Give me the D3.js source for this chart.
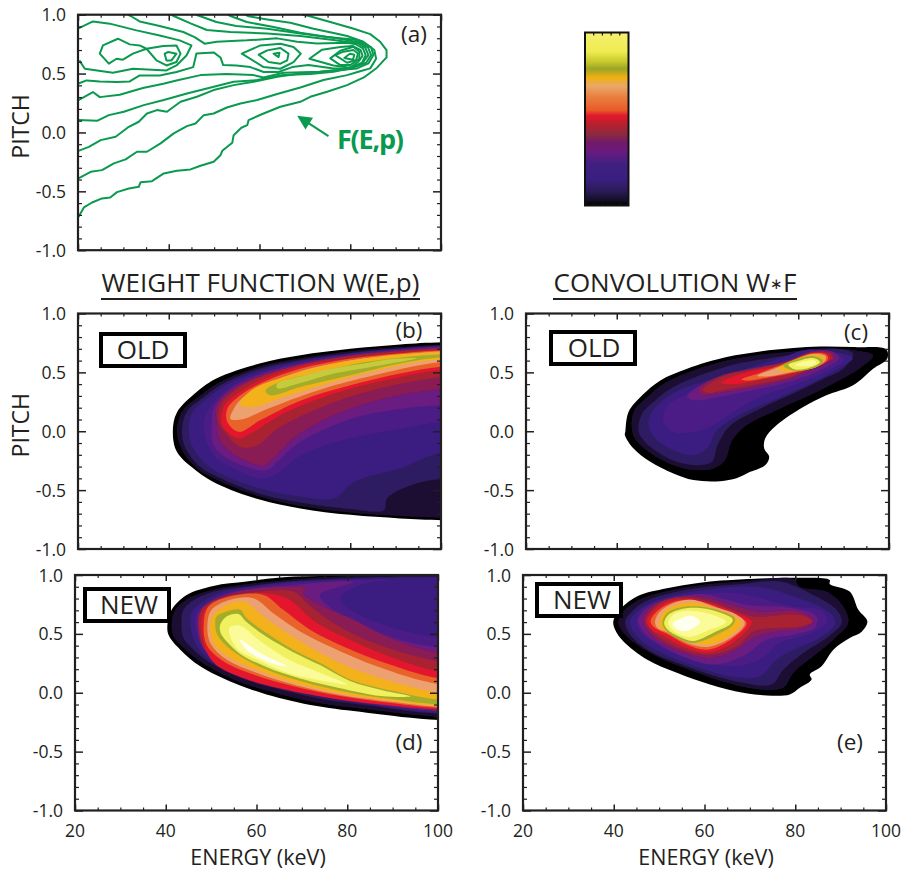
<!DOCTYPE html>
<html>
<head>
<meta charset="utf-8">
<script src="https://cdn.jsdelivr.net/npm/d3@7"></script>
<style>
  html, body { margin: 0; padding: 0; background: #fff; }
  svg { display: block; }
  text { font-family: 'Open Sans', 'Noto Sans', sans-serif; fill: #231f20; }
</style>
</head>
<body>
<svg id="chart" width="904" height="871"></svg>
<script>
const energyMajor = [20, 40, 60, 80, 100]
const energyMinor = [25, 30, 35, 45, 50, 55, 65, 70, 75, 85, 90, 95]
const pitchMajor = [-1, -0.5, 0, 0.5, 1]
const pitchMinor = [-0.9, -0.8, -0.7, -0.6, -0.4, -0.3, -0.2, -0.1, 0.1, 0.2, 0.3, 0.4, 0.6, 0.7, 0.8, 0.9]

// colour of each contour level, lowest first
const levelColors = ['#000000', '#1c1030', '#2e1b62', '#3a1f80', '#4b1f85', '#6a1a80', '#8a1a55', '#a82230',
  '#e3182d', '#e8622a', '#eda070', '#f3b21a', '#a3ad2a', '#f0f060', '#fbfb9a', '#fffff0']
// the ridge of panel (b) never gets past yellow-green
const bRidgeColor = '#c6ca3e'

const barStops = [0, 0.03, 0.08, 0.15, 0.24, 0.31, 0.365, 0.41, 0.47, 0.52, 0.55, 0.63, 0.69, 0.74, 0.79, 0.83, 0.89, 1]
const barColors = ['#000000', '#140f25', '#2a1a55', '#3a1f80', '#3f2080', '#6a1a80', '#721a68', '#8a2a40', '#b8202e',
  '#e3182d', '#e85a28', '#ea8040', '#e8a86a', '#f0b010', '#9aa528', '#c8c82a', '#eeec50', '#f6f070']
const barTicks = [0.2, 0.4, 0.6, 0.8]

// panel (a): F(E,p) contour lines, [energy, pitch]
const fLines = [
  [[20.1,-.717],[21.3,-.637],[23.1,-.595],[25.3,-.56],[27.1,-.552],[28.6,-.507],[31.2,-.476],[33.4,-.462],[33.8,-.422],[36.3,-.414],[38.9,-.348],[41.8,-.326],[44.8,-.314],[47,-.283],[49.9,-.249],[51.4,-.193],[51.8,-.156],[54,-.088],[54.3,-.023],[56,.04],[57.3,.062],[57.6,.105],[60.9,.161],[64.6,.218],[69,.26],[71.2,.303],[74.9,.346],[79.3,.402],[83,.467],[85.9,.55],[88,.637],[88,.70],[86.6,.77],[84.4,.835],[80.8,.881],[75.6,.938],[70.9,.989],[69.4,1]],
  [[20.1,-.39],[22.8,-.334],[25.3,-.32],[27.9,-.263],[30.5,-.229],[33,-.164],[35.2,-.164],[38.2,-.093],[41.1,-.008],[44,.054],[45.9,.076],[47.7,.147],[49.9,.161],[52.8,.212],[55.8,.246],[59.5,.275],[63.9,.326],[69,.382],[74.1,.445],[79.3,.487],[81.8,.516],[84.4,.544],[85.7,.626],[85.3,.70],[82.9,.77],[79.3,.819],[77.1,.839],[71.9,.881],[66.8,.932],[61.7,.96],[57.6,.986],[56.8,1]],
  [[20.1,-.156],[22.4,-.122],[25,-.065],[28.3,-.037],[31.2,.048],[33.4,.091],[35.2,.161],[37.4,.19],[39.6,.176],[42.6,.261],[46.2,.303],[49.9,.36],[54.3,.402],[58.7,.431],[63.9,.473],[69,.501],[73.4,.515],[77.8,.53],[81.5,.544],[84,.586],[85.1,.657],[84.6,.722],[82.6,.77],[80.7,.79],[74.9,.81],[69,.847],[63.1,.895],[57.2,.938],[53.6,.989],[53,1]],
  [[20.1,.105],[24.2,.099],[26.8,.147],[30.1,.176],[34.5,.232],[38.9,.275],[44,.331],[48.4,.374],[54.3,.431],[59.5,.445],[65.3,.487],[71.2,.496],[76.3,.515],[80.7,.55],[83.5,.592],[84.6,.657],[83.9,.722],[82.2,.762],[79.3,.785],[76.3,.805],[69,.841],[61.7,.881],[54.9,.904],[50.5,.938],[46.8,.989],[46,1]],
  [[20.1,.275],[23.3,.343],[24.8,.30],[29.2,.32],[34.3,.377],[38.8,.414],[41.7,.442],[47,.487],[52.8,.496],[58.7,.487],[60.9,.467],[65.3,.507],[73.4,.516],[78.5,.535],[82.6,.586],[84,.657],[83.3,.72],[81.8,.756],[76.3,.785],[69,.819],[61.7,.841],[53.6,.853],[48.4,.87],[44.8,.926],[41.1,.989],[40.5,1]],
  [[20.1,.416],[21.9,.442],[24.8,.433],[28.5,.428],[31.4,.433],[33.6,.484],[38,.484],[41.7,.513],[45.4,.555],[46.1,.671],[49.9,.68],[51.4,.637],[52,.572],[54.9,.569],[58,.555],[60.9,.513],[64.2,.513],[67.2,.555],[70.8,.572],[76.3,.544],[80,.544],[82.6,.592],[83.4,.657],[82.8,.714],[81.3,.748],[79.3,.762],[72.7,.756],[68.3,.771],[63.9,.799],[57.2,.782],[50.6,.771],[47.9,.754],[45.7,.81],[43.2,.853],[38,.904],[33.6,.943],[31.6,.989],[31,1]],
  [[20.1,.884],[23.3,.943],[27,.924],[32.9,.867],[38,.824],[42.4,.782],[45,.739],[43.9,.654],[41.7,.569],[39.5,.527],[32.1,.541],[27.7,.507],[21.5,.541],[20.3,.612]]
]
const fRings = [
  [[24.8,.669],[25.5,.739],[28.8,.796],[31.4,.748],[33.6,.739],[35.1,.711],[38.8,.734],[41.7,.739],[42.6,.669],[41.7,.598],[39.5,.569],[37.3,.612],[35.1,.711],[32.1,.669],[29.9,.618],[28.5,.626],[26.8,.584]],
  [[39.1,.669],[39.9,.683],[41.7,.669],[40.6,.612],[39.5,.612]],
  [[56.1,.669],[60.2,.739],[64.6,.754],[67.5,.725],[69.1,.669],[67.5,.598],[64.6,.541],[60.9,.555]],
  [[59.8,.66],[61.7,.697],[64.6,.717],[66.4,.669],[66.1,.612],[64.6,.584],[62,.598]],
  [[63.1,.669],[64.4,.677],[64.2,.64]],
  [[71,.626],[73.8,.703],[77.8,.725],[80.5,.735],[82.3,.70],[82.7,.65],[81.8,.60],[80,.55],[76.3,.569]],
  [[80.7,.728],[82,.686],[82,.625],[80,.572],[77.8,.572],[75.6,.629],[77.8,.694]],
  [[76.7,.657],[78.5,.686],[80.7,.70],[81.7,.671],[81.3,.615],[79.3,.592]],
  [[78.7,.632],[79.9,.669],[80.9,.66],[80.6,.618]]
]
const fArrow = [[75.2, -0.031], [68.3, 0.142]]

// panel (b): old weight function, one outline per level
const bLevels = [
  [[40.9,0],[41.8,.16],[46.2,.335],[50.6,.45],[60,.575],[69,.645],[80,.70],[91,.737],[100.5,.755],[125,.76],[125,-.76],[100.5,-.755],[91,-.74],[80,-.71],[69,-.655],[60,-.58],[50.6,-.445],[46.2,-.34],[41.8,-.175]],
  [[41.8,0],[42.9,.165],[47,.305],[51.4,.42],[60,.55],[69,.62],[80,.68],[91,.715],[100.5,.735],[125,.74],[125,-.74],[100.5,-.735],[91,-.72],[80,-.69],[69,-.635],[60,-.555],[50.6,-.415],[46.2,-.315],[42.9,-.16]],
  [[42.9,0],[44,.165],[47.7,.29],[52,.405],[60,.53],[69,.605],[80,.665],[91,.705],[100.5,.73],[125,.735],[125,-.36],[100.5,-.40],[93.2,-.46],[88.1,-.57],[87.4,-.67],[80,-.66],[69,-.605],[60,-.53],[50.6,-.385],[46.6,-.29],[43.7,-.145]],
  [[44.4,0],[45.1,.15],[48.4,.275],[52.5,.39],[60,.51],[69,.595],[80,.66],[91,.70],[100.5,.725],[125,.73],[125,-.15],[100.5,-.175],[91,-.315],[80.8,-.43],[76.4,-.57],[69,-.555],[60,-.485],[50.6,-.345],[47.3,-.245],[45.1,-.12]],
  [[47.7,.02],[48.1,.135],[50.6,.275],[53.6,.375],[60,.49],[69,.58],[80,.65],[91,.695],[100.5,.72],[125,.725],[125,.09],[100.5,.08],[91,.02],[80,-.06],[69,-.205],[63.9,-.36],[60,-.40],[54.3,-.315],[49.9,-.205]],
  [[49.5,.08],[49.9,.19],[52.9,.335],[58.7,.46],[69,.575],[80,.645],[91,.69],[100.5,.715],[125,.72],[125,.23],[100.5,.22],[91,.19],[80,.105],[69,-.09],[63.9,-.26],[61.7,-.33],[54.3,-.26],[49.9,-.12]],
  [[50.6,.065],[50.6,.22],[53.6,.345],[59.5,.46],[69,.565],[80,.645],[91,.685],[100.5,.71],[125,.715],[125,.38],[100.5,.36],[87.4,.275],[76.4,.135],[67.5,-.06],[63.1,-.23],[61,-.29],[55.8,-.23],[51.4,-.09]],
  [[51,.08],[51.4,.22],[54.3,.34],[59.5,.45],[69,.565],[80,.64],[91,.68],[100.5,.705],[125,.71],[125,.48],[100.5,.46],[83.7,.335],[72.7,.19],[63.9,.02],[59.5,-.12],[55.8,-.135],[52.9,-.035]],
  [[51.8,.05],[52.1,.205],[55.1,.32],[60.2,.43],[69,.55],[80,.62],[91,.665],[100.5,.69],[125,.695],[125,.54],[100.5,.52],[87.4,.43],[76.4,.32],[65.3,.15],[58,-.02],[55.1,-.06]],
  [[52.9,.08],[52.9,.19],[55.8,.305],[61,.42],[69,.53],[80,.615],[91,.66],[100.5,.685],[125,.69],[125,.58],[100.5,.55],[91,.49],[80,.39],[69,.26],[60.2,.095],[55.4,-.005]],
  [[53.6,.105],[54.3,.19],[56.5,.29],[61.7,.40],[69,.51],[80,.60],[91,.65],[100.5,.68],[125,.685],[125,.61],[100.5,.59],[83.7,.46],[72.7,.345],[61.7,.19],[56.5,.105]],
  [[55.8,.22],[55.8,.25],[58.7,.36],[65.3,.46],[76.4,.575],[87.4,.64],[100.5,.67],[125,.675],[125,.635],[100.5,.615],[87.4,.53],[76.4,.42],[65.3,.29],[58.7,.205]],
  [[61.3,.345],[61.7,.365],[65.3,.43],[72.7,.50],[83.7,.59],[94.7,.64],[100.5,.652],[125,.655],[125,.64],[100.5,.628],[91,.575],[80,.475],[69,.375],[62.4,.305]],
  [[63.9,.365],[63.9,.405],[69,.465],[76.4,.535],[83.7,.58],[89.6,.615],[94.7,.62],[83.7,.54],[76.4,.49],[69,.41]]
]

// panel (c): old convolution
const cLevels = [
  [[41.9,0],[42.6,.164],[45.6,.305],[49.6,.432],[55.5,.531],[64.2,.63],[71.6,.678],[78.9,.706],[84.8,.72],[92.1,.715],[99.4,.695],[99.6,.616],[96.5,.531],[92.1,.39],[86.2,.305],[81.1,.206],[75.2,.05],[72.7,-.062],[72.5,-.147],[73.6,-.218],[72.7,-.288],[69.4,-.345],[66.4,-.40],[62.8,-.424],[56.9,-.415],[52.5,-.359],[47.4,-.26],[43.7,-.147],[41.8,-.034]],
  [[43.4,0],[43.7,.164],[46.7,.29],[50.3,.404],[56.2,.508],[64.2,.60],[71.6,.65],[78.9,.678],[85.5,.705],[92.1,.69],[96.5,.644],[93.5,.531],[88.4,.418],[82.6,.305],[76,.192],[68.6,.05],[65.3,-.09],[63.9,-.246],[61.3,-.316],[56.9,-.33],[52.5,-.288],[48.1,-.203],[44.5,-.09]],
  [[44.8,0],[45.6,.15],[48.9,.277],[52.5,.376],[58.4,.475],[65.7,.565],[73,.616],[80.4,.66],[87,.70],[92.1,.66],[89.9,.531],[84.8,.432],[78.9,.32],[71.6,.192],[65.1,.05],[62.2,-.119],[61,-.26],[57.4,-.288],[52.3,-.246],[47.9,-.147],[45.9,-.076]],
  [[47,.05],[47.8,.164],[51.1,.29],[55.5,.376],[61.3,.445],[68.6,.531],[76,.62],[82.3,.695],[90,.655],[92,.62],[87.7,.503],[82.6,.404],[75.2,.277],[66.9,.136],[61.8,-.006],[60.2,-.133],[56.9,-.203],[52.5,-.161],[48.9,-.076]],
  [[50.3,.08],[50.7,.192],[53.3,.277],[56.9,.32],[62.8,.39],[70.1,.489],[77.4,.60],[83.3,.685],[89,.65],[90,.60],[85.1,.489],[78.9,.39],[71.6,.291],[65.7,.164],[61.3,.05],[56.9,-.006],[52.5,-.006]],
  [[55.5,.30],[56.2,.333],[62.1,.46],[70.1,.531],[77.4,.582],[83.3,.68],[87.5,.675],[89,.62],[85.5,.531],[78.9,.432],[71.6,.362],[64.2,.305],[56.9,.263]],
  [[58,.36],[62.8,.47],[70,.535],[77.4,.592],[83.3,.675],[87.5,.665],[88,.62],[84.5,.55],[78.9,.455],[71.6,.385],[64.2,.335],[58.5,.315]],
  [[59,.35],[63,.46],[70,.525],[77,.585],[83,.67],[87,.66],[87.5,.62],[83.5,.56],[78.9,.47],[71.6,.405],[64.2,.355],[60,.325]],
  [[63,.41],[66,.47],[71,.52],[77,.565],[83,.665],[86.5,.655],[87,.62],[85,.56],[78,.485],[72,.44],[66,.40]],
  [[67.5,.44],[71.5,.495],[76,.56],[83,.66],[86.2,.65],[86.5,.61],[84.5,.555],[78,.49],[73,.455],[69,.43]],
  [[71,.47],[75,.535],[79,.595],[83,.655],[86,.64],[86,.605],[84,.55],[78,.50],[74,.47]],
  [[75.5,.525],[78,.585],[83,.65],[85.8,.625],[85.5,.595],[84,.545],[78,.51]],
  [[76.7,.56],[78.9,.60],[83.3,.64],[85.5,.60],[84,.545],[78.9,.515]],
  [[77.8,.565],[79.6,.593],[83.3,.622],[84.8,.588],[83.3,.55],[79.3,.525]],
  [[79.3,.56],[81,.59],[83.6,.6],[84,.58],[82.5,.555]]
]

// panel (d): new weight function
const dLevels = [
  [[40.4,.59],[41.3,.704],[44.6,.83],[50.5,.907],[57.8,.944],[65.9,.98],[76.9,.995],[90,1.02],[100.5,1.03],[125,1.04],[125,-.235],[100.5,-.232],[84.3,-.169],[73.3,-.113],[62.2,-.014],[54.9,.085],[47.6,.225],[43.2,.366],[40.6,.493]],
  [[41.3,.59],[42.1,.704],[45.4,.81],[50.9,.88],[58.2,.924],[66.7,.958],[76.9,.985],[90,.995],[100.5,1],[125,1],[125,-.21],[100.5,-.205],[84.3,-.141],[73.3,-.085],[62.6,.014],[55.3,.107],[48.3,.248],[44.3,.366],[41.7,.479]],
  [[43.5,.59],[43.9,.704],[46.8,.80],[51.6,.868],[58.6,.907],[67.4,.947],[76.9,.969],[90,.985],[100.5,.99],[125,.99],[125,-.18],[100.5,-.18],[84.3,-.107],[74,-.051],[63.7,.042],[56.4,.127],[49.8,.254],[46.1,.366],[43.9,.465]],
  [[45.4,.59],[45.8,.69],[48.5,.78],[52.5,.855],[59,.90],[67.4,.94],[76.9,.96],[90,.975],[100.5,.98],[125,.98],[125,-.17],[100.5,-.17],[84.3,-.095],[74,-.03],[63.7,.055],[56.4,.15],[50,.27],[46.8,.40]],
  [[46.5,.59],[46.8,.676],[49.4,.775],[53.4,.845],[59.3,.887],[67.4,.93],[76.9,.952],[89.4,.958],[82.8,.915],[78.4,.803],[80.6,.704],[88,.577],[100.5,.465],[125,.44],[125,-.16],[100.5,-.16],[84.3,-.079],[74,-.014],[63.7,.07],[56.4,.169],[50.5,.296],[47.6,.408]],
  [[46.9,.59],[47.3,.68],[49.8,.775],[54.9,.855],[62.2,.895],[69.6,.92],[81.3,.94],[74,.831],[75.1,.761],[81.3,.606],[91.6,.451],[100.5,.385],[125,.36],[125,-.155],[100.5,-.155],[84.3,-.09],[74,-.025],[63.7,.06],[56.4,.16],[50.5,.285],[48,.40]],
  [[47.1,.59],[47.6,.68],[50.2,.775],[54.9,.85],[60,.885],[66,.90],[71,.885],[70.3,.845],[73.3,.761],[80.6,.634],[89.4,.465],[100.5,.335],[125,.29],[125,-.15],[100.5,-.15],[90.2,-.101],[77.7,-.039],[67.4,.042],[58.6,.135],[52,.248],[48.3,.38]],
  [[47.3,.59],[48,.715],[52,.803],[60.8,.859],[68.1,.859],[71.1,.761],[76.9,.592],[85,.437],[100.5,.265],[125,.22],[125,-.145],[100.5,-.145],[90,-.105],[77,-.045],[67,.035],[58,.13],[52,.25],[48.5,.37]],
  [[47.8,.59],[48.5,.70],[52.6,.80],[60.8,.845],[66.7,.803],[73.3,.592],[81.3,.437],[90.2,.296],[100.5,.18],[125,.14],[125,-.14],[100.5,-.14],[90,-.11],[77,-.05],[66,.03],[57,.125],[51,.24],[49,.35]],
  [[48.4,.592],[49.4,.732],[53.4,.811],[61.5,.831],[65.9,.704],[71.8,.535],[79.9,.38],[89.4,.239],[100.5,.12],[125,.08],[125,-.13],[100.5,-.13],[90.2,-.09],[78.4,-.028],[68.1,.056],[59.3,.155],[52.7,.268],[49,.408]],
  [[49.2,.592],[50.1,.704],[54.2,.789],[59.3,.803],[63.7,.676],[69.6,.521],[76.9,.38],[86.5,.225],[100.5,.07],[125,.03],[125,-.122],[100.5,-.122],[90.2,-.079],[79.1,-.023],[68.9,.062],[60,.169],[53.4,.282],[49.8,.423]],
  [[49.8,.592],[50.5,.662],[53.4,.746],[57.1,.775],[61.5,.648],[66.7,.507],[74,.338],[82.8,.183],[100.5,0],[125,-.03],[125,-.112],[100.5,-.112],[90.2,-.07],[79.9,-.014],[69.6,.07],[60.8,.183],[54.2,.296],[50.5,.423]],
  [[50.9,.592],[51.2,.648],[53.4,.69],[56.4,.704],[57.8,.634],[62.2,.507],[68.1,.366],[74,.254],[80.6,.113],[90.2,.014],[100.5,-.06],[125,-.07],[125,-.10],[100.5,-.10],[90.2,-.056],[80.6,0],[69.6,.099],[62.2,.197],[56.4,.31],[52.7,.423],[51.2,.507]],
  [[52,.577],[53.4,.648],[56,.668],[57.8,.6],[62.2,.475],[68.1,.345],[74,.235],[80.6,.10],[88,.02],[94,-.03],[88,-.03],[80.6,.02],[69.6,.12],[62.2,.218],[56.4,.33],[53.4,.437],[52.1,.507]],
  [[54,.55],[56.4,.57],[60.8,.44],[67.4,.275],[74,.17],[80,.07],[73.3,.11],[66.7,.17],[60.8,.27],[55.6,.38]],
  [[56.4,.451],[60.8,.338],[66.7,.225],[63,.254],[57.8,.366]]
]

// panel (e): new convolution
const eLevels = [
  [[39.9,.606],[41,.69],[45.1,.817],[51.7,.887],[59,.935],[68.5,.963],[79.6,.977],[87.6,.958],[87.6,.924],[92,.859],[93.9,.704],[95.9,.606],[94.7,.521],[92,.465],[88.4,.366],[85.8,.225],[83.2,.155],[83.6,.113],[81,.042],[78.8,-.014],[73.7,-.023],[68.5,0],[61.2,.07],[53.9,.169],[47.3,.282],[42.1,.437],[40.3,.535]],
  [[41,.606],[42.1,.69],[45.8,.794],[51.9,.865],[59.4,.916],[68.5,.944],[79.6,.966],[81,.901],[86.9,.859],[90.6,.732],[91.7,.592],[88.4,.451],[84,.31],[79.6,.169],[77.4,.042],[72.2,.028],[64.9,.085],[57.5,.183],[50.2,.296],[43.6,.451],[41.4,.549]],
  [[42.5,.606],[43.6,.676],[46.9,.775],[52.4,.845],[59.7,.896],[68.5,.924],[76.6,.944],[83.2,.845],[89.1,.704],[90.2,.592],[86.9,.465],[81.8,.338],[77.4,.197],[74.8,.07],[68.5,.085],[61.2,.155],[53.9,.254],[48,.352],[43.6,.493]],
  [[43.6,.606],[44.7,.676],[48,.761],[53.1,.825],[59.7,.873],[67.1,.901],[73.7,.887],[79.6,.817],[85.4,.732],[88.4,.648],[88.7,.577],[84.7,.451],[79.6,.366],[75.9,.282],[72.2,.141],[66.3,.135],[59,.211],[53.1,.296],[47.3,.408],[44.3,.521]],
  [[45.1,.606],[46.2,.704],[49.5,.775],[53.9,.811],[59.7,.845],[67.1,.845],[72.2,.803],[79.6,.732],[86.2,.69],[86.9,.592],[82.5,.493],[76.6,.423],[72.2,.282],[66.3,.225],[59,.268],[53.1,.338],[48,.451],[45.8,.521]],
  [[45.4,.62],[47.3,.718],[50.2,.775],[54.6,.817],[59.7,.837],[64.9,.789],[69.3,.746],[79.6,.718],[84.7,.648],[84.3,.549],[79.6,.493],[73.7,.451],[68.5,.31],[62,.239],[56.1,.296],[50.2,.408],[46.5,.521]],
  [[46.5,.62],[48,.718],[50.9,.783],[56.1,.823],[61.2,.803],[67.2,.732],[72.2,.69],[81,.69],[84,.606],[81.8,.549],[75.9,.521],[70.8,.465],[66.3,.352],[61.2,.296],[54.6,.352],[49.5,.451],[47.3,.535]],
  [[47,.62],[48.7,.718],[51.7,.789],[56.1,.811],[61.2,.775],[66.3,.704],[70.7,.648],[81,.662],[83.7,.606],[81,.563],[75.1,.549],[70.7,.521],[67.1,.394],[61.2,.324],[55.3,.366],[50.2,.465],[48,.535]],
  [[47.3,.606],[49.1,.704],[52,.775],[56.1,.797],[61.2,.761],[67.1,.676],[70.4,.606],[67.1,.451],[61.2,.344],[56.1,.38],[50.9,.485],[48.4,.535]],
  [[48.1,.606],[49.5,.69],[52.4,.761],[56.8,.789],[61.2,.752],[66.3,.662],[69.3,.592],[66.3,.465],[60.8,.366],[56.1,.408],[51.7,.501],[49.1,.549]],
  [[49.1,.606],[50.2,.69],[53.1,.761],[57.2,.789],[61.9,.732],[67.1,.662],[68.9,.592],[66.3,.479],[60.8,.389],[56.1,.423],[51.7,.513],[49.6,.549]],
  [[50.1,.606],[51.1,.69],[53.9,.746],[57.2,.766],[61.9,.718],[66.7,.648],[68.2,.592],[65.6,.485],[60.8,.408],[56.1,.437],[52,.521],[50.2,.549]],
  [[50.7,.592],[51.7,.676],[54.6,.724],[59,.732],[62.7,.704],[66.7,.634],[66.3,.577],[62.7,.493],[57.5,.423],[53.9,.465],[51.7,.521]],
  [[51.1,.592],[52.2,.668],[55,.712],[59,.72],[62.7,.69],[66.2,.625],[65.8,.585],[62,.51],[57.5,.44],[54.2,.48],[51.9,.535]],
  [[52,.592],[53.5,.672],[57.5,.695],[61.9,.66],[64.8,.6],[60.5,.525],[56.5,.475],[53.2,.525]],
  [[53,.586],[55.3,.64],[57.5,.65],[59,.6],[56.1,.525],[54,.54]]
]

const INK = '#231f20'
const GREEN = '#0a9a4f'
const svg = d3.select('#chart')
const defs = svg.append('defs')

defs.append('filter').attr('id', 'soft')
  .attr('x', '-5%').attr('y', '-5%').attr('width', '110%').attr('height', '110%')
  .append('feGaussianBlur').attr('stdDeviation', 0.6)

function drawFrame(id, left, top) {
  const width = 363
  const height = 235.5
  const x = d3.scaleLinear().domain([20, 100]).range([left, left + width])
  const y = d3.scaleLinear().domain([-1, 1]).range([top + height, top])

  defs.append('clipPath').attr('id', `clip-${id}`)
    .append('rect').attr('x', left).attr('y', top).attr('width', width).attr('height', height)

  return { x, y, left, top, width, height, plot: svg.append('g').attr('clip-path', `url(#clip-${id})`) }
}

function drawAxes(p, withEnergyLabels) {
  const axes = svg.append('g').attr('class', 'axes')
  const side = (axis, tx, ty, major, minor, size, minorSize) => {
    axes.append('g').attr('transform', `translate(${tx},${ty})`)
      .call(axis().tickValues(major).tickSize(size).tickFormat(''))
      .call(g => g.select('.domain').remove())
      .selectAll('line').attr('stroke', INK).attr('stroke-width', 1.5)
    axes.append('g').attr('transform', `translate(${tx},${ty})`)
      .call(axis().tickValues(minor).tickSize(minorSize).tickFormat(''))
      .call(g => g.select('.domain').remove())
      .selectAll('line').attr('stroke', INK).attr('stroke-width', 1.2)
  }
  side(() => d3.axisBottom(p.x), 0, p.top + p.height, energyMajor, energyMinor, -6, -3)
  side(() => d3.axisTop(p.x), 0, p.top, energyMajor, energyMinor, -6, -3)
  side(() => d3.axisLeft(p.y), p.left, 0, pitchMajor, pitchMinor, -8, -4)
  side(() => d3.axisRight(p.y), p.left + p.width, 0, pitchMajor, pitchMinor, -8, -4)

  axes.append('rect')
    .attr('x', p.left).attr('y', p.top).attr('width', p.width).attr('height', p.height)
    .attr('fill', 'none').attr('stroke', INK).attr('stroke-width', 2.2)

  axes.selectAll('text.ylab')
    .data(pitchMajor)
    .join('text')
    .attr('class', 'ylab')
    .attr('x', p.left - 12)
    .attr('y', d => p.y(d) + 6.5)
    .attr('text-anchor', 'end')
    .attr('font-size', 17.5)
    .text(d => d.toFixed(1))

  if (!withEnergyLabels) return
  axes.selectAll('text.xlab')
    .data(energyMajor)
    .join('text')
    .attr('class', 'xlab')
    .attr('x', d => p.x(d))
    .attr('y', p.top + p.height + 26)
    .attr('text-anchor', 'middle')
    .attr('font-size', 17.5)
    .text(d => d)
  axes.append('text')
    .attr('x', p.x(60) + 1.5)
    .attr('y', p.top + p.height + 54)
    .attr('text-anchor', 'middle')
    .attr('font-size', 21.5)
    .text('ENERGY (keV)')
}

function drawLevels(p, levels, topColor) {
  const area = d3.line()
    .x(d => p.x(d[0]))
    .y(d => p.y(d[1]))
    .curve(d3.curveCatmullRomClosed.alpha(0.5))
  p.plot.append('g')
    .attr('filter', 'url(#soft)')
    .selectAll('path')
    .data(levels)
    .join('path')
    .attr('fill', (d, i) => (topColor && i === levels.length - 1 ? topColor : levelColors[i]))
    .attr('d', area)
}

function pitchTitle(p) {
  svg.append('text')
    .attr('transform', `translate(29,${p.y(0) - 6}) rotate(-90)`)
    .attr('text-anchor', 'middle')
    .attr('font-size', 23)
    .text('PITCH')
}

function tagBox(x, y, label, textX) {
  const g = svg.append('g')
  g.append('rect')
    .attr('x', x + 2).attr('y', y + 2).attr('width', 84).attr('height', 32)
    .attr('fill', '#fff').attr('stroke', '#000').attr('stroke-width', 4)
  g.append('text')
    .attr('x', textX).attr('y', y + 27)
    .attr('text-anchor', 'middle')
    .attr('font-size', 26)
    .text(label)
}

function panelLetter(x, y, label) {
  svg.append('text').attr('x', x).attr('y', y).attr('text-anchor', 'middle').attr('font-size', 22.5).text(label)
}

function heading(x0, x1, baseline, label, tail) {
  const t = svg.append('text')
    .attr('x', (x0 + x1) / 2).attr('y', baseline)
    .attr('text-anchor', 'middle')
    .attr('font-size', 26)
    .text(label)
  if (tail) {
    t.append('tspan').attr('font-size', 15).attr('dy', -3).text('\u2217')
    t.append('tspan').attr('dy', 3).text(tail)
  }
  svg.append('line')
    .attr('x1', x0).attr('x2', x1).attr('y1', baseline + 7).attr('y2', baseline + 7)
    .attr('stroke', INK).attr('stroke-width', 2)
}

// panel a
const pa = drawFrame('a', 78, 14.7)
const faLine = d3.line().x(d => pa.x(d[0])).y(d => pa.y(d[1]))
pa.plot.selectAll('path.open').data(fLines).join('path')
  .attr('class', 'open').attr('fill', 'none').attr('stroke', GREEN).attr('stroke-width', 2)
  .attr('stroke-linejoin', 'round').attr('d', faLine)
pa.plot.selectAll('path.ring').data(fRings).join('path')
  .attr('class', 'ring').attr('fill', 'none').attr('stroke', GREEN).attr('stroke-width', 2)
  .attr('stroke-linejoin', 'round').attr('d', d => faLine(d) + 'Z')
drawAxes(pa, false)
pitchTitle(pa)
panelLetter(414, 42, '(a)')

// arrow and label for F(E,p)
const [arrowFrom, arrowTo] = fArrow
const ax0 = pa.x(arrowFrom[0]), ay0 = pa.y(arrowFrom[1])
const ax1 = pa.x(arrowTo[0]), ay1 = pa.y(arrowTo[1])
const ang = Math.atan2(ay1 - ay0, ax1 - ax0)
svg.append('line')
  .attr('x1', ax0).attr('y1', ay0)
  .attr('x2', ax1 - 8 * Math.cos(ang)).attr('y2', ay1 - 8 * Math.sin(ang))
  .attr('stroke', GREEN).attr('stroke-width', 2)
svg.append('path')
  .attr('fill', GREEN)
  .attr('d', d3.line()([
    [ax1, ay1],
    [ax1 - 16 * Math.cos(ang - 0.45), ay1 - 16 * Math.sin(ang - 0.45)],
    [ax1 - 16 * Math.cos(ang + 0.45), ay1 - 16 * Math.sin(ang + 0.45)]
  ]) + 'Z')
svg.append('text')
  .attr('x', 337).attr('y', 149)
  .attr('font-size', 27).attr('font-weight', 700)
  .attr('letter-spacing', -1.2)
  .style('fill', GREEN)
  .text('F(E,p)')

// colour bar
const barScale = d3.scaleLinear().domain([0, 1]).range([205.5, 32.5])
const grad = defs.append('linearGradient').attr('id', 'bar-grad')
  .attr('x1', 0).attr('y1', 1).attr('x2', 0).attr('y2', 0)
grad.selectAll('stop').data(barStops).join('stop')
  .attr('offset', d => d)
  .attr('stop-color', (d, i) => barColors[i])
svg.append('rect')
  .attr('x', 585).attr('y', barScale(1)).attr('width', 43.5).attr('height', barScale(0) - barScale(1))
  .attr('fill', 'url(#bar-grad)').attr('stroke', '#111').attr('stroke-width', 2)
const barTickX = d3.scaleLinear().domain([0, 1]).range([585, 628.5])
svg.selectAll('line.bartick').data(barTicks).join('line')
  .attr('class', 'bartick')
  .attr('x1', d => barTickX(d)).attr('x2', d => barTickX(d))
  .attr('y1', barScale(1)).attr('y2', barScale(1) + 3)
  .attr('stroke', '#111').attr('stroke-width', 1.2)
svg.selectAll('line.barbottom').data(barTicks).join('line')
  .attr('class', 'barbottom')
  .attr('x1', d => barTickX(d)).attr('x2', d => barTickX(d))
  .attr('y1', barScale(0)).attr('y2', barScale(0) - 3)
  .attr('stroke', '#111').attr('stroke-width', 1.2)

// headings
heading(101, 420, 292, 'WEIGHT FUNCTION W(E,p)')
heading(553, 797, 292, 'CONVOLUTION W', 'F')

// panel b
const pb = drawFrame('b', 78, 313.5)
drawLevels(pb, bLevels, bRidgeColor)
drawAxes(pb, false)
pitchTitle(pb)
tagBox(99, 332, 'OLD', 143)
panelLetter(409, 338, '(b)')

// panel c
const pc = drawFrame('c', 526, 313.5)
drawLevels(pc, cLevels)
drawAxes(pc, false)
tagBox(549, 330, 'OLD', 594)
panelLetter(856, 340, '(c)')

// panel d
const pd = drawFrame('d', 75, 575)
drawLevels(pd, dLevels)
drawAxes(pd, true)
tagBox(83, 587, 'NEW', 129)
panelLetter(409, 750, '(d)')

// panel e
const pe = drawFrame('e', 523, 575)
drawLevels(pe, eLevels)
drawAxes(pe, true)
tagBox(535, 582, 'NEW', 582)
panelLetter(850, 750, '(e)')
</script>
</body>
</html>
